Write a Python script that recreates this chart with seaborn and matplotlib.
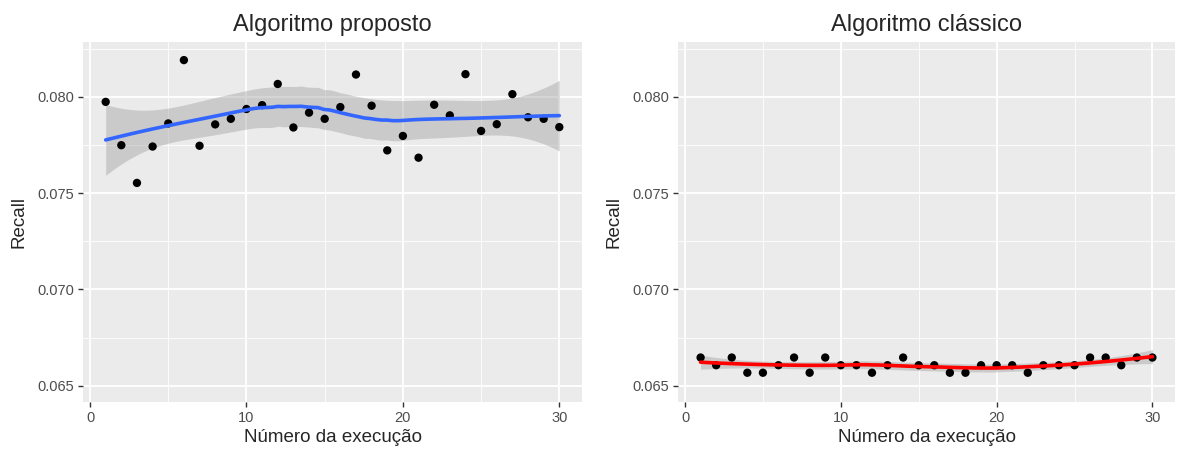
import numpy as np
import pandas as pd
import matplotlib
matplotlib.use("Agg")
import matplotlib.pyplot as plt
from matplotlib.ticker import MultipleLocator
import seaborn as sns

# execution number 1..30
execucao = list(range(1, 31))

recall_proposto = [0.07974, 0.07749, 0.07553, 0.07742, 0.07862, 0.08191, 0.07746, 0.07857,
                   0.07886, 0.07937, 0.07957, 0.08067, 0.07841, 0.07918, 0.07886, 0.07947,
                   0.08116, 0.07954, 0.07722, 0.07797, 0.07684, 0.07959, 0.07904, 0.08118,
                   0.07823, 0.07858, 0.08014, 0.07894, 0.07886, 0.07843]

recall_classico = [0.06646, 0.06606, 0.06646, 0.06567, 0.06567, 0.06606, 0.06646, 0.06567,
                   0.06646, 0.06606, 0.06606, 0.06567, 0.06606, 0.06646, 0.06606, 0.06606,
                   0.06567, 0.06567, 0.06606, 0.06606, 0.06606, 0.06567, 0.06606, 0.06606,
                   0.06606, 0.06646, 0.06646, 0.06606, 0.06646, 0.06646]

titulos = ["Algoritmo proposto", "Algoritmo clássico"]
cores_linha = ["#3366FF", "#FF0000"]


def loess_matrix(x, xs, span=0.75):
    # local quadratic fit with tricube weights (like R's loess default)
    n = len(x)
    q = int(np.floor(n * span))
    rows = []
    for x0 in xs:
        d = np.abs(x - x0)
        h = np.sort(d)[q - 1]
        w = np.clip(1 - (d / h) ** 3, 0, None) ** 3
        X = np.column_stack([np.ones(n), x - x0, (x - x0) ** 2])
        XtW = X.T * w
        rows.append(np.linalg.solve(XtW @ X, XtW)[0])
    return np.array(rows)


def smooth(x, y, n_grid=80):
    x = np.asarray(x, float)
    y = np.asarray(y, float)
    grid = np.linspace(x.min(), x.max(), n_grid)
    L = loess_matrix(x, x)
    R = np.eye(len(x)) - L
    RR = R.T @ R
    d1 = np.trace(RR)
    d2 = np.trace(RR @ RR)
    res = y - L @ y
    s = np.sqrt(np.sum(res ** 2) / d1)
    df = d1 ** 2 / d2
    Lg = loess_matrix(x, grid)
    fit = Lg @ y
    se = s * np.sqrt(np.sum(Lg ** 2, axis=1))
    z = 1.959964
    tq = z + (z ** 3 + z) / (4 * df) + (5 * z ** 5 + 16 * z ** 3 + 3 * z) / (96 * df ** 2)
    return grid, fit, fit - tq * se, fit + tq * se


sns.set_theme(style="darkgrid", rc={
    "axes.facecolor": "#EBEBEB",
    "grid.color": "white",
    "axes.edgecolor": "#EBEBEB",
})
plt.rcParams["font.family"] = ["Liberation Sans", "DejaVu Sans"]

fig = plt.figure(figsize=(11.77, 4.54), dpi=100)
ax1 = fig.add_axes([83 / 1177, 52 / 454, 499 / 1177, 360 / 454])
ax2 = fig.add_axes([678 / 1177, 52 / 454, 497 / 1177, 360 / 454])

for ax, vals, titulo, cor in zip([ax1, ax2], [recall_proposto, recall_classico], titulos, cores_linha):
    df = pd.DataFrame({"execucao": execucao, "recall": vals})
    gx, fit, lo, hi = smooth(df["execucao"], df["recall"])
    ax.fill_between(gx, lo, hi, color="#999999", alpha=0.4, lw=0, zorder=2)
    sns.scatterplot(data=df, x="execucao", y="recall", color="black", s=36,
                    edgecolor="none", ax=ax, zorder=3)
    sns.lineplot(x=gx, y=fit, color=cor, lw=2.6, ax=ax, zorder=4)

    ax.set_xlim(-0.45, 31.45)
    ax.set_ylim(0.06415, 0.08285)
    ax.xaxis.set_major_locator(MultipleLocator(10))
    ax.xaxis.set_minor_locator(MultipleLocator(5))
    ax.yaxis.set_major_locator(MultipleLocator(0.005))
    ax.yaxis.set_minor_locator(MultipleLocator(0.0025))
    ax.yaxis.set_major_formatter(matplotlib.ticker.FormatStrFormatter("%.3f"))
    ax.grid(which="major", color="white", lw=1.3)
    ax.grid(which="minor", color="white", lw=0.6)
    ax.tick_params(which="major", length=3.5, width=1, color="#333333",
                   labelsize=10.5, labelcolor="#4D4D4D", pad=3,
                   bottom=True, left=True)
    ax.tick_params(which="minor", length=0)
    for sp in ax.spines.values():
        sp.set_visible(False)

    ax.set_title(titulo, fontsize=17, pad=8)
    ax.set_xlabel("Número da execução", fontsize=13.5)
    ax.set_ylabel("Recall", fontsize=13.5)
    ax.xaxis.set_label_coords(0.5, -0.075)
    ax.yaxis.set_label_coords(-0.112, 0.5)

fig.savefig("out.png", dpi=100)
